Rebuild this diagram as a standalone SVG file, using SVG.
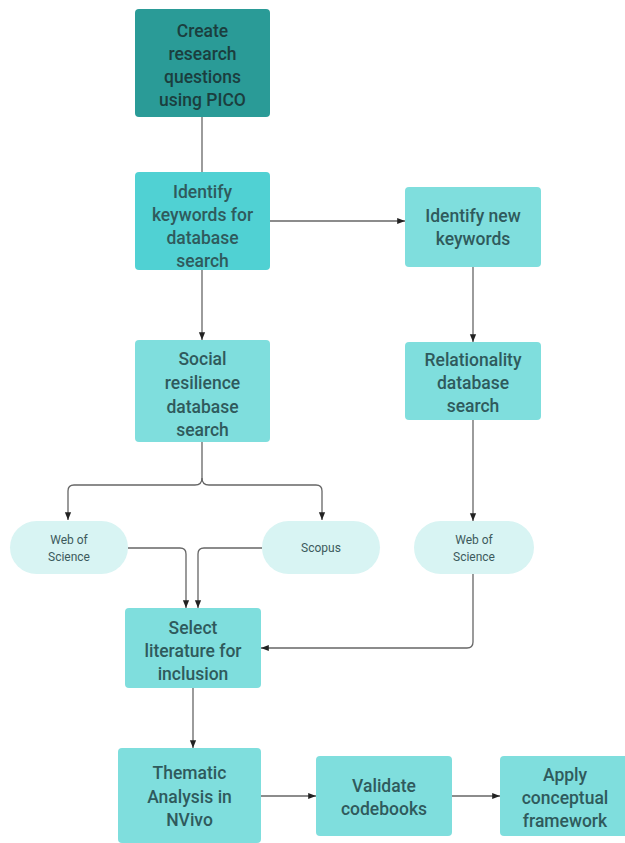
<svg xmlns="http://www.w3.org/2000/svg" width="625" height="843" viewBox="0 0 625 843">
<defs>
<marker id="ah" viewBox="0 0 10 10" refX="10" refY="5" markerWidth="6" markerHeight="6" orient="auto">
<path d="M0,1 L10,5 L0,9 z" fill="#222"/>
</marker>
<style>
.n rect{fill:#7fdedd;}
.n text{font-family:Roboto,"Liberation Sans",sans-serif;font-size:17.5px;font-weight:500;fill:#2f5a5c;text-anchor:middle;dominant-baseline:central;}
.dark rect{fill:#2a9b97;}
.dark text{fill:#1b3e3e;}
.mid rect{fill:#50d1d3;}
.p rect{fill:#d8f4f3;}
.p text{font-size:12px;font-weight:400;fill:#3c5a5c;}
.c path{fill:none;stroke:#666;stroke-width:1.3;}
.c .a{marker-end:url(#ah);}
</style>
</defs>
<rect width="625" height="843" fill="#fff"/>
<g class="c">
<path d="M202,117 V172"/>
<path class="a" d="M270,221 H405"/>
<path class="a" d="M202,270 V340"/>
<path class="a" d="M473,267 V342"/>
<path d="M202,442 V478 Q202,485 195,485 H74 Q68,485 68,491 V520" class="a"/>
<path d="M202,478 Q202,485 209,485 H316 Q322,485 322,491 V520" class="a"/>
<path class="a" d="M473,420 V521"/>
<path class="a" d="M128,548 H180 Q186,548 186,554 V608"/>
<path class="a" d="M262,548 H204 Q198,548 198,554 V608"/>
<path class="a" d="M473,574 V642 Q473,648 467,648 H261"/>
<path class="a" d="M193,688 V748"/>
<path class="a" d="M261,796 H316"/>
<path class="a" d="M452,796 H500"/>
</g>
<g id="n1" class="n dark"><rect x="135" y="9" width="135" height="108" rx="4"/>
<text x="202.5" y="31">Create</text><text x="202.5" y="54">research</text><text x="202.5" y="77">questions</text><text x="202.5" y="100">using PICO</text></g>
<g id="n2" class="n mid"><rect x="135" y="172" width="135" height="98" rx="4"/>
<text x="202.5" y="192">Identify</text><text x="202.5" y="215">keywords for</text><text x="202.5" y="238">database</text><text x="202.5" y="261">search</text></g>
<g id="n3" class="n"><rect x="405" y="187" width="136" height="80" rx="4"/>
<text x="473" y="216">Identify new</text><text x="473" y="239">keywords</text></g>
<g id="n4" class="n"><rect x="135" y="340" width="135" height="102" rx="4"/>
<text x="202.5" y="359">Social</text><text x="202.5" y="383">resilience</text><text x="202.5" y="407">database</text><text x="202.5" y="430">search</text></g>
<g id="n5" class="n"><rect x="405" y="342" width="136" height="78" rx="4"/>
<text x="473" y="360">Relationality</text><text x="473" y="383">database</text><text x="473" y="406">search</text></g>
<g id="p1" class="n p"><rect x="10" y="521" width="118" height="53" rx="26.5"/>
<text x="69" y="540">Web of</text><text x="69" y="557">Science</text></g>
<g id="p2" class="n p"><rect x="262" y="521" width="118" height="53" rx="26.5"/>
<text x="321" y="548">Scopus</text></g>
<g id="p3" class="n p"><rect x="414" y="521" width="120" height="53" rx="26.5"/>
<text x="474" y="540">Web of</text><text x="474" y="557">Science</text></g>
<g id="n6" class="n"><rect x="125" y="608" width="136" height="80" rx="4"/>
<text x="193" y="628">Select</text><text x="193" y="651">literature for</text><text x="193" y="674">inclusion</text></g>
<g id="n7" class="n"><rect x="118" y="748" width="143" height="95" rx="4"/>
<text x="189.5" y="773">Thematic</text><text x="189.5" y="797">Analysis in</text><text x="189.5" y="820">NVivo</text></g>
<g id="n8" class="n"><rect x="316" y="756" width="136" height="80" rx="4"/>
<text x="384" y="786">Validate</text><text x="384" y="809">codebooks</text></g>
<g id="n9" class="n"><rect x="500" y="756" width="130" height="80" rx="4"/>
<text x="565" y="775">Apply</text><text x="565" y="798">conceptual</text><text x="565" y="821">framework</text></g>
</svg>
